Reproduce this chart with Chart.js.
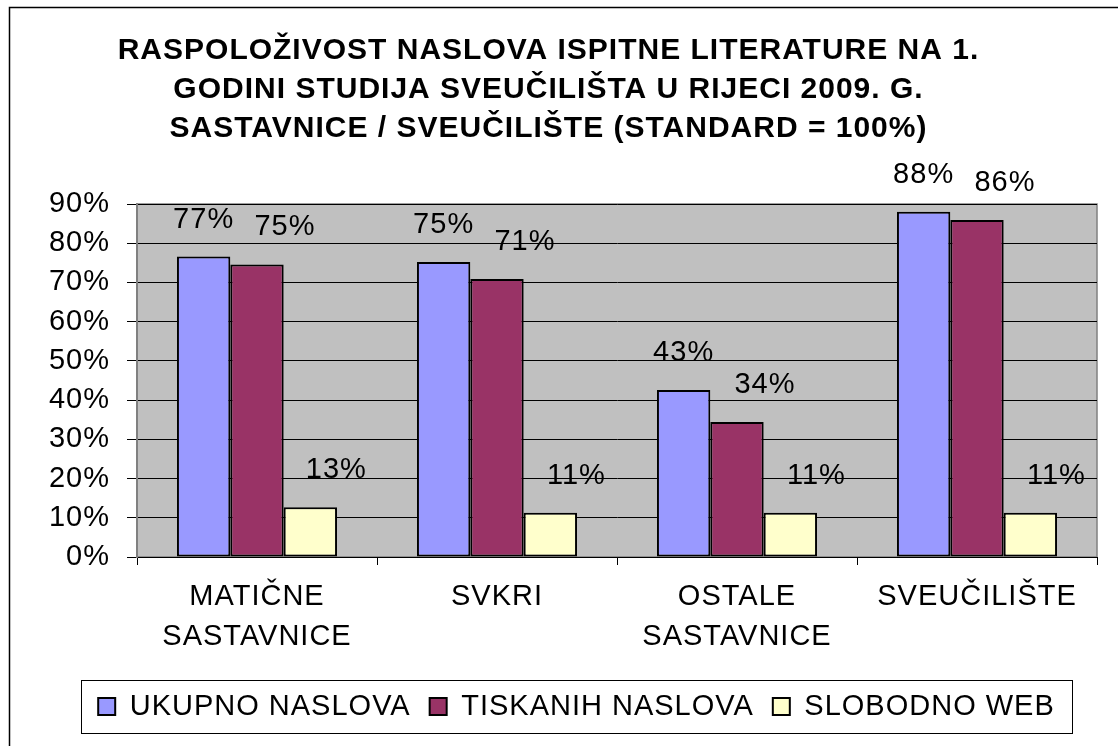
<!doctype html>
<html lang="en">
  <head>
    <meta charset="utf-8">
    <script src="https://cdn.jsdelivr.net/npm/chart.js"></script>
    <style>
      body { margin: 0; background: #fff; }
      canvas { display: block; }
    </style>
  </head>
  <body>
    <canvas id="myChart" width="1118" height="746"></canvas>
    <script>
      const categories = [['MATIČNE', 'SASTAVNICE'], 'SVKRI', ['OSTALE', 'SASTAVNICE'], 'SVEUČILIŠTE'];
      const seriesNames = ['UKUPNO NASLOVA', 'TISKANIH NASLOVA', 'SLOBODNO WEB'];
      const ukupno = [76.6, 75.2, 42.6, 88.0];
      const tiskanih = [74.6, 70.9, 34.4, 85.9];
      const slobodno = [12.7, 11.3, 11.3, 11.3];
      const yTicks = [0, 10, 20, 30, 40, 50, 60, 70, 80, 90];
      const titleLines = [
        'RASPOLOŽIVOST NASLOVA ISPITNE LITERATURE NA 1.',
        'GODINI STUDIJA SVEUČILIŠTA U RIJECI 2009. G.',
        'SASTAVNICE / SVEUČILIŠTE (STANDARD = 100%)'
      ];

      const colors = ['#9999ff', '#993366', '#ffffcc'];
      const labelShift = [0, 28, 26]; // excel put the value labels off to the right
      const fontFamily = '"Liberation Sans", Arial, sans-serif';

      const spacingPlugin = {
        id: 'spacing',
        beforeUpdate(chart) {
          chart.ctx.letterSpacing = '1px';
        },
        afterLayout(chart) {
          // legend sits a bit right of centre in the original
          chart.legend.left += 28;
          chart.legend.right += 28;
        },
        beforeDraw(chart) {
          const ctx = chart.ctx;
          const a = chart.chartArea;
          ctx.letterSpacing = '1px';
          ctx.save();
          ctx.fillStyle = '#c0c0c0';
          ctx.fillRect(a.left, a.top, a.right - a.left, a.bottom - a.top);
          ctx.strokeStyle = '#808080';
          ctx.lineWidth = 1.5;
          ctx.strokeRect(a.left, a.top, a.right - a.left, a.bottom - a.top);
          ctx.restore();
        },
        afterDatasetsDraw(chart) {
          const ctx = chart.ctx;
          ctx.save();
          ctx.font = '29px ' + fontFamily;
          ctx.fillStyle = '#000';
          ctx.textAlign = 'center';
          ctx.textBaseline = 'middle';
          chart.data.datasets.forEach(function (ds, i) {
            chart.getDatasetMeta(i).data.forEach(function (bar, j) {
              ctx.fillText(Math.round(ds.data[j]) + '%', bar.x + labelShift[i], bar.y - 37);
            });
          });
          ctx.restore();
        },
        afterDraw(chart) {
          const ctx = chart.ctx;
          ctx.save();
          // outer chart frame
          ctx.strokeStyle = '#000';
          ctx.lineWidth = 1.5;
          ctx.strokeRect(9.5, 7.5, 1300, 900);
          // frame around legend
          const boxes = chart.legend.legendHitBoxes;
          if (boxes.length) {
            const first = boxes[0];
            const last = boxes[boxes.length - 1];
            const mid = first.top + first.height / 2;
            ctx.lineWidth = 1;
            ctx.strokeRect(Math.round(first.left - 17) + 0.5, Math.round(mid - 27) + 0.5,
              Math.round(last.left + last.width - first.left + 34), 53);
          }
          ctx.restore();
        }
      };

      const chartdata = {
        labels: categories,
        datasets: [ukupno, tiskanih, slobodno].map(function (values, i) {
          return {
            label: seriesNames[i],
            data: values,
            backgroundColor: colors[i],
            borderColor: '#000',
            borderWidth: 2,
            borderSkipped: false,
            categoryPercentage: 0.667,
            barPercentage: 1.0
          };
        })
      };

      const setup = {
        type: 'bar',
        data: chartdata,
        options: {
          responsive: false,
          animation: false,
          devicePixelRatio: 1,
          layout: {
            padding: { left: 0, right: 21, top: 0, bottom: 15 }
          },
          plugins: {
            title: {
              display: true,
              text: titleLines,
              color: '#000',
              font: { family: fontFamily, size: 30, weight: 'bold', lineHeight: '39px' },
              padding: { top: 31, bottom: 56 }
            },
            legend: {
              position: 'bottom',
              labels: {
                color: '#000',
                boxWidth: 17,
                boxHeight: 17,
                padding: 19,
                font: { family: fontFamily, size: 29 }
              }
            },
            tooltip: { enabled: false }
          },
          scales: {
            x: {
              afterFit(scale) { scale.height = 116; },
              grid: {
                drawOnChartArea: false,
                drawTicks: true,
                tickLength: 8,
                color: '#000'
              },
              border: { color: '#000', width: 1 },
              ticks: {
                color: '#000',
                padding: 12,
                maxRotation: 0,
                autoSkip: false,
                font: { family: fontFamily, size: 29, lineHeight: '40px' }
              }
            },
            y: {
              min: 0,
              max: 90,
              afterFit(scale) { scale.width = 137; },
              afterBuildTicks(scale) {
                scale.ticks = yTicks.map(function (v) { return { value: v }; });
              },
              grid: {
                color: '#000',
                tickLength: 10,
                tickColor: '#000'
              },
              border: { color: '#808080', width: 2 },
              ticks: {
                color: '#000',
                padding: 17,
                font: { family: fontFamily, size: 29 },
                callback: function (v) { return v + '%'; }
              }
            }
          }
        },
        plugins: [spacingPlugin]
      };

      new Chart(document.getElementById('myChart'), setup);
    </script>
  </body>
</html>
